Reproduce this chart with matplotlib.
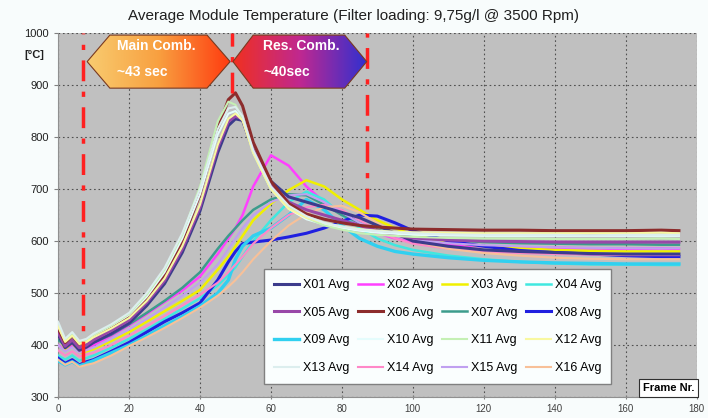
import matplotlib
matplotlib.use("Agg")
import matplotlib.pyplot as plt
import numpy as np
from matplotlib.patches import Polygon
from matplotlib.colors import LinearSegmentedColormap

plt.rcParams['font.family'] = ['Liberation Sans', 'DejaVu Sans']

# frame numbers where values were read
frames = [0, 2, 4, 6, 8, 10, 15, 20, 25, 30, 35, 40, 45, 48, 50, 52, 55, 60, 65, 70,
          75, 80, 85, 90, 95, 100, 110, 120, 130, 140, 150, 160, 170, 175]

x01 = [420, 395, 405, 390, 396, 405, 422, 442, 476, 518, 578, 658, 770, 822, 835, 832, 775, 715, 685, 675,
       665, 655, 645, 630, 615, 600, 590, 583, 580, 578, 576, 575, 575, 575]
x02 = [400, 390, 398, 388, 395, 400, 418, 438, 460, 483, 505, 532, 575, 605, 625, 650, 705, 765, 745, 705,
       675, 650, 630, 615, 605, 598, 592, 590, 588, 587, 586, 585, 586, 585]
x03 = [420, 392, 405, 385, 388, 392, 408, 425, 445, 465, 485, 506, 545, 570, 590, 610, 640, 672, 698, 717,
       705, 680, 660, 640, 625, 612, 598, 590, 586, 583, 581, 580, 580, 580]
x04 = [380, 372, 380, 370, 375, 380, 395, 412, 430, 450, 470, 490, 515, 535, 550, 570, 600, 640, 675, 695,
       680, 650, 625, 605, 592, 583, 572, 565, 560, 557, 555, 555, 554, 554]
x05 = [425, 398, 410, 395, 400, 410, 428, 448, 482, 524, 585, 665, 780, 830, 840, 835, 775, 710, 675, 660,
       650, 640, 630, 620, 612, 606, 602, 600, 599, 598, 598, 598, 598, 598]
x06 = [432, 405, 418, 402, 408, 418, 435, 455, 490, 535, 600, 690, 815, 872, 885, 860, 790, 715, 672, 652,
       642, 635, 630, 627, 625, 623, 622, 621, 621, 620, 620, 620, 621, 620]
x07 = [410, 400, 410, 395, 400, 405, 420, 440, 462, 485, 510, 540, 585, 610, 625, 640, 660, 680, 690, 688,
       670, 650, 635, 622, 614, 608, 602, 598, 596, 595, 594, 594, 593, 593]
x08 = [375, 365, 372, 362, 368, 372, 388, 405, 425, 445, 462, 481, 525, 560, 580, 595, 598, 602, 608, 615,
       625, 638, 650, 648, 635, 620, 600, 590, 582, 578, 575, 572, 570, 570]
x09 = [370, 362, 368, 360, 365, 370, 385, 400, 418, 437, 455, 475, 500, 525, 565, 590, 610, 625, 650, 680,
       660, 630, 605, 590, 580, 575, 568, 563, 560, 558, 557, 556, 556, 556]
x10 = [438, 408, 420, 404, 409, 419, 437, 458, 493, 540, 605, 690, 805, 845, 850, 835, 770, 700, 662, 642,
       632, 625, 620, 616, 614, 612, 611, 610, 610, 610, 610, 610, 610, 610]
x11 = [440, 410, 422, 405, 410, 420, 438, 460, 497, 545, 612, 705, 830, 868, 862, 835, 770, 700, 665, 645,
       630, 622, 615, 612, 610, 608, 606, 605, 605, 604, 604, 604, 605, 604]
x12 = [436, 406, 418, 402, 406, 415, 432, 452, 485, 528, 590, 670, 785, 835, 845, 832, 770, 700, 662, 645,
       635, 628, 623, 620, 618, 617, 616, 615, 615, 615, 615, 615, 616, 615]
x13 = [445, 412, 425, 408, 412, 422, 440, 462, 500, 548, 615, 700, 815, 855, 858, 840, 775, 705, 668, 648,
       635, 628, 622, 619, 617, 615, 613, 612, 612, 612, 611, 612, 612, 612]
x14 = [390, 380, 388, 378, 382, 385, 400, 418, 437, 456, 476, 497, 520, 540, 555, 570, 595, 625, 650, 665,
       670, 660, 640, 620, 605, 595, 585, 580, 577, 575, 574, 573, 573, 573]
x15 = [400, 388, 396, 385, 390, 395, 412, 430, 450, 472, 495, 520, 555, 585, 605, 625, 650, 675, 688, 690,
       675, 655, 635, 620, 610, 603, 596, 592, 590, 588, 587, 586, 586, 586]
x16 = [372, 362, 368, 358, 362, 365, 380, 398, 415, 433, 452, 472, 495, 512, 525, 540, 565, 600, 630, 652,
       665, 668, 655, 635, 615, 600, 585, 577, 572, 568, 566, 565, 565, 565]

names = ["X%02d Avg" % i for i in range(1, 17)]
series = [x01, x02, x03, x04, x05, x06, x07, x08, x09, x10, x11, x12, x13, x14, x15, x16]
colors = ["#3c3c8c", "#ff40ff", "#f0f000", "#40e8e0", "#9848a8", "#8c2c2c", "#3c9c8c", "#2020e0",
          "#30d0f0", "#e4fcfc", "#c4f0b4", "#f8f8a0", "#dceeee", "#ff88c8", "#c0a0f0", "#f8c098"]
widths = [2.2, 1.8, 1.8, 1.8, 2.2, 2.2, 1.8, 2.2, 2.4, 1.5, 1.5, 1.5, 1.5, 1.5, 1.5, 1.5]

fig = plt.figure(figsize=(7.08, 4.18), dpi=100, facecolor="#f8fcfc")
ax = fig.add_axes([0.082, 0.050, 0.902, 0.871])
ax.set_facecolor("#c0c0c0")

lines = []
for i in range(16):
    ln, = ax.plot(frames, series[i], color=colors[i], lw=widths[i], label=names[i], zorder=3)
    lines.append(ln)
# draw the early-peak lines on top like the original
for i in [0, 4, 5, 9, 10, 11, 12]:
    lines[i].set_zorder(4)

# red phase markers
ax.plot([7, 7], [368, 1000], color="#ff2020", lw=2.5, ls=(0, (6, 3, 1.5, 3)), zorder=5)
ax.plot([49, 49], [885, 1000], color="#ff2020", lw=2.5, ls=(0, (6, 3, 1.5, 3)), zorder=5)
ax.plot([87, 87], [662, 1000], color="#ff2020", lw=2.5, ls=(0, (6, 3, 1.5, 3)), zorder=5)

ax.set_xlim(0, 180)
ax.set_ylim(300, 1000)


def grad_arrow(pts, cols, label):
    poly = Polygon(pts, closed=True, facecolor="none", edgecolor="#7a3a20", lw=0.8, zorder=7)
    ax.add_patch(poly)
    xs = [p[0] for p in pts]
    ys = [p[1] for p in pts]
    cmap = LinearSegmentedColormap.from_list("g", cols)
    img = ax.imshow(np.linspace(0, 1, 256).reshape(1, -1), cmap=cmap, aspect="auto",
                    extent=[min(xs), max(xs), min(ys), max(ys)], zorder=6, interpolation="bilinear")
    img.set_clip_path(poly)
    ax.text(min(xs) + 8.5, 975, label[0], color="white", fontsize=10, fontweight="bold",
            va="center", ha="left", zorder=8)
    ax.text(min(xs) + 8.5, 925, label[1], color="white", fontsize=10, fontweight="bold",
            va="center", ha="left", zorder=8)


grad_arrow([(8.2, 945), (14.6, 996), (42, 996), (48.5, 945), (42, 894), (14.6, 894)],
           ["#f8cc70", "#f8a040", "#ff3c10"], ("Main Comb.", "~43 sec"))
grad_arrow([(49.3, 945), (55, 996), (80.8, 996), (87, 945), (80.8, 894), (55, 894)],
           ["#f03020", "#c02890", "#3030d0"], ("Res. Comb.", "~40sec"))
ax.set_xlim(0, 180)
ax.set_ylim(300, 1000)

ax.set_xticks(np.arange(0, 181, 20))
ax.set_yticks(np.arange(300, 1001, 100))
ax.grid(True, color="#505050", ls=(0, (1.5, 2.5)), lw=0.8, zorder=1)
ax.set_axisbelow(True)
ax.tick_params(axis="x", labelsize=7, colors="#808080", labelcolor="#404040", length=3, direction="inout")
ax.tick_params(axis="y", labelsize=8, colors="#808080", labelcolor="#202020", length=3)
for s in ["top", "right"]:
    ax.spines[s].set_visible(False)
for s in ["left", "bottom"]:
    ax.spines[s].set_color("#909090")

fig.text(0.5, 0.962, "Average Module Temperature (Filter loading: 9,75g/l @ 3500 Rpm)",
         ha="center", va="center", fontsize=11, color="#202020")
fig.text(0.048, 0.868, "[°C]", ha="center", va="center", fontsize=8, fontweight="bold", color="#202020")

ax.text(0.996, 0.012, "Frame Nr.", transform=ax.transAxes, ha="right", va="bottom",
        fontsize=8, fontweight="bold", zorder=9,
        bbox=dict(facecolor="white", edgecolor="#303030", boxstyle="square,pad=0.35", lw=0.8))

order = [0, 4, 8, 12, 1, 5, 9, 13, 2, 6, 10, 14, 3, 7, 11, 15]
leg = ax.legend([lines[i] for i in order], [names[i] for i in order], ncol=4,
                loc="lower left", bbox_to_anchor=(0.313, 0.019, 0.563, 0.341), mode="expand",
                fontsize=9, frameon=True, fancybox=False, framealpha=1, edgecolor="#808080",
                handlelength=2.0, handletextpad=0.3, labelspacing=1.25, columnspacing=0.8,
                borderpad=0.8)
leg.get_frame().set_facecolor("#fafefe")
leg.set_zorder(10)

fig.savefig("out.png", dpi=100, facecolor=fig.get_facecolor())
